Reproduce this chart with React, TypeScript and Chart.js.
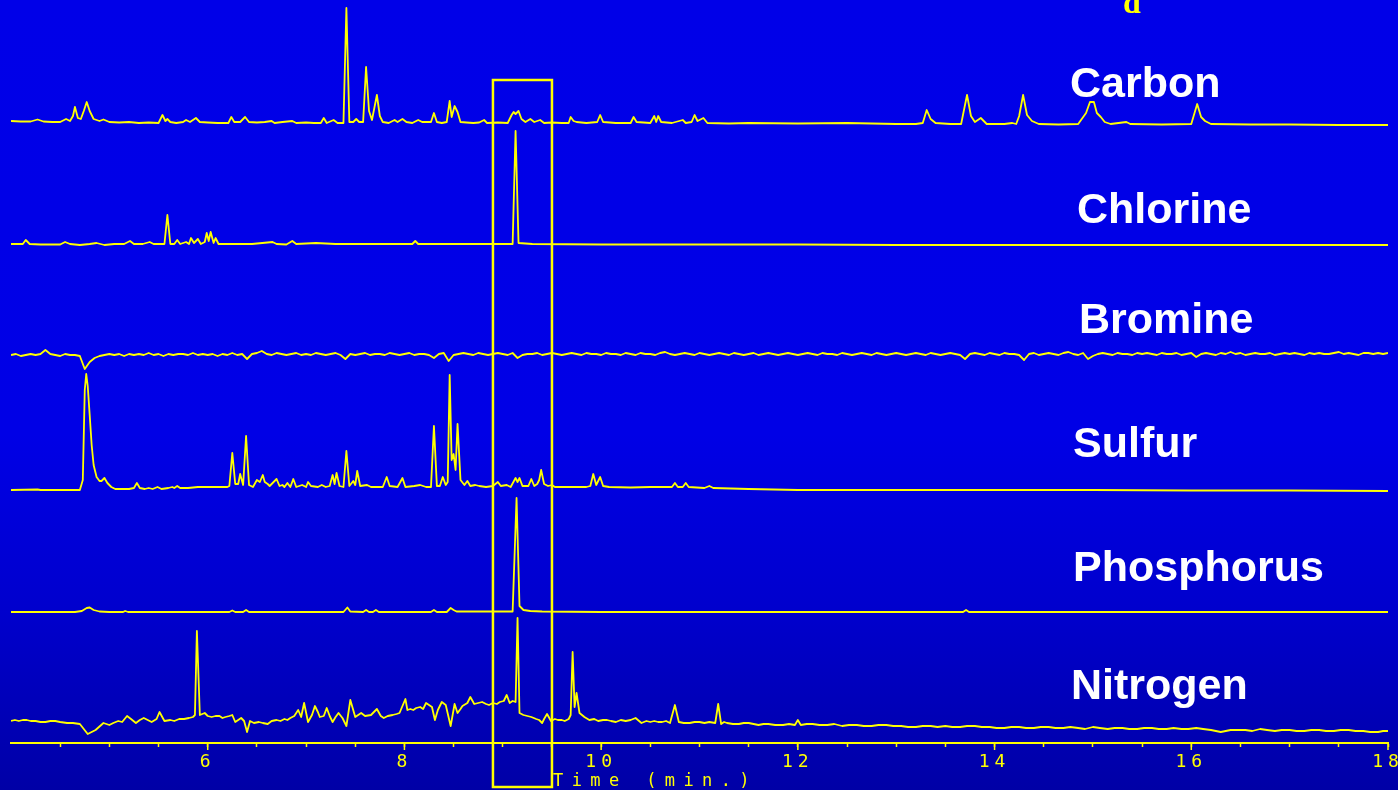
import React, { useEffect, useRef } from "react";
import { Chart, registerables } from "chart.js";

Chart.register(...registerables);

// ---------- axis ----------
const timeMin = 4;
const timeMax = 18;
const tickLabels = ["6", "8", "10", "12", "14", "16", "18"];
const axisTitle = "Time (min.)";
const panelLetter = "d";

// ---------- series ----------
const elementNames = ["Carbon", "Chlorine", "Bromine", "Sulfur", "Phosphorus", "Nitrogen"];
const traceOffsets = [622, 499, 388, 253, 131, 23];
const highlightWindow = [8.9, 9.5];

const carbon: [number, number][] = [
  [4.0, 0], [4.1, -0.5], [4.2, -0.5], [4.27, 1.5], [4.33, -0.5], [4.42, -1], [4.5, -1], [4.56, 2], [4.6, 0], [4.63, 5], [4.65, 14], [4.68, 3],
  [4.71, 2], [4.74, 10], [4.77, 19], [4.8, 10], [4.84, 2], [4.9, 0], [4.94, 1.5], [5.0, -1], [5.1, -1.5], [5.2, -1], [5.3, -2], [5.4, -1.5], [5.5, -2],
  [5.54, 6], [5.57, 0], [5.59, 2], [5.62, -1], [5.68, -2], [5.75, -1], [5.78, 1], [5.82, -1], [5.88, 3], [5.92, -1], [6.0, -1.5], [6.1, -2],
  [6.21, -2], [6.24, 4], [6.27, -1], [6.33, -1], [6.38, 4], [6.42, -1], [6.5, -1.5], [6.58, -1], [6.65, 0], [6.68, -2], [6.76, -1], [6.86, 0], [6.9, -2],
  [7.0, -1.5], [7.08, -2], [7.15, -2], [7.18, 3], [7.21, -2], [7.28, 1], [7.32, -2], [7.38, -2], [7.41, 113], [7.44, -1], [7.48, -1], [7.51, 2],
  [7.54, -1], [7.58, -1], [7.61, 54], [7.64, 10], [7.67, 1], [7.72, 26], [7.75, 5], [7.78, -1], [7.84, -2], [7.9, 1], [7.93, -1],
  [7.98, 2], [8.02, -1], [8.08, -2], [8.14, 1], [8.18, -1], [8.27, -1], [8.3, 8], [8.33, -1], [8.38, -2], [8.43, -1], [8.46, 20],
  [8.48, 4], [8.51, 15], [8.54, 9], [8.57, -1], [8.63, -1.5], [8.7, -2], [8.76, -1.5], [8.81, 1], [8.84, -2], [8.95, -1.5], [9.05, -2], [9.09, 6], [9.11, 9],
  [9.13, 7], [9.16, 10], [9.19, 2], [9.23, -1], [9.28, 2], [9.32, -1], [9.38, 1], [9.42, -2], [9.5, -1.5], [9.6, -2], [9.67, -2],
  [9.69, 4], [9.72, 0], [9.75, -1], [9.85, -2], [9.96, -1], [9.99, 6], [10.02, -1], [10.15, -2], [10.3, -2], [10.33, 4], [10.36, -1], [10.5, -2],
  [10.54, 5], [10.56, -1], [10.58, 5], [10.61, -1], [10.72, -2], [10.83, 1], [10.86, -2], [10.92, -1], [10.95, 6], [10.98, 0], [11.04, 3],
  [11.08, -2], [11.3, -2.5], [11.5, -2], [12.0, -2.5], [12.5, -2], [13.0, -3], [13.2, -3], [13.27, -2], [13.31, 11], [13.35, 2], [13.4, -2], [13.55, -3], [13.66, -3], [13.72, 26],
  [13.76, 5], [13.8, -1], [13.86, 3], [13.92, -3], [14.1, -3], [14.18, -2], [14.22, -3], [14.25, 5], [14.29, 26], [14.33, 6],
  [14.38, 0], [14.45, -3], [14.65, -3.5], [14.85, -3], [14.93, 8], [14.97, 19], [15.01, 19], [15.04, 8], [15.08, 4], [15.12, -1], [15.18, -3],
  [15.34, -1], [15.38, -3], [15.7, -3.5], [16.0, -3], [16.06, 17], [16.1, 4], [16.14, 0], [16.2, -3], [16.6, -3.5], [17.0, -3.5], [17.5, -4], [18.0, -4],
];

const chlorine: [number, number][] = [
  [4.0, 0], [4.12, 0], [4.15, 4], [4.19, 0], [4.3, -0.5], [4.5, -0.5], [4.55, 2], [4.6, 0], [4.7, -1], [4.8, 0], [4.87, 1], [4.95, -1],
  [5.05, 0], [5.15, 0], [5.21, 3], [5.25, 0], [5.34, 0], [5.41, 2], [5.45, 0], [5.56, 0], [5.59, 29], [5.62, 0], [5.66, 0],
  [5.69, 4], [5.72, 0], [5.78, 2], [5.81, 0], [5.83, 6], [5.86, 1], [5.9, 5], [5.93, 0], [5.97, 2], [5.99, 11],
  [6.01, 3], [6.03, 12], [6.06, 1], [6.08, 6], [6.11, 0], [6.2, 0], [6.3, 0], [6.45, 0], [6.66, 2], [6.7, 0], [6.8, -0.5], [6.86, 3], [6.9, 0],
  [7.1, 1], [7.3, 0], [7.5, 0], [7.8, 0], [8.08, 0], [8.11, 3], [8.14, 0], [8.4, 0], [8.6, 0], [9.1, 0], [9.13, 113], [9.16, 1], [9.3, 0],
  [10.0, -0.5], [11.0, -0.5], [12.0, -0.5], [13.0, -1], [14.0, -1], [16.0, -1], [18.0, -1],
];

// bromine: one reading every 0.05 min from 4.00 to 18.00 (one row per minute)
const bromineStep = 0.05;
const bromine: number[] = [
  0, 1, -1, 0, 1, 0, 1, 5, 1, 0, -1, 1, 0, 0, -1, -14, -7, -3, -1, 0,
  1, 0, 1, -1, 1, 0, 1, 0, 2, 0, 1, -1, 1, 0, 1, 1, 0, 2, 0, 1,
  0, 1, -1, 1, 0, 2, 0, 1, -4, 1, 2, 4, 1, 0, 2, 1, 0, 1, 2, 0,
  1, 0, 2, 1, 0, 1, 2, 0, -4, 1, 0, 1, 2, 0, 1, 1, 0, 2, 1, 0,
  1, 2, 0, 1, 1, 0, -3, 1, 2, -6, 0, 1, 2, 1, 0, 2, 1, 0, 1, 2,
  1, 0, 2, -3, 0, 1, 1, 2, 0, 1, 2, 1, 0, 1, 2, 1, 0, 2, 1, 1,
  0, 2, 1, 1, 0, 2, 1, 0, 2, 1, 1, 0, 2, 3, 1, 0, 1, 2, 1, 0,
  2, 1, 0, 1, 2, 1, 0, 2, 1, 0, 1, 2, 0, 1, 2, 1, 0, 1, 2, 1,
  0, 1, 2, 1, 0, 2, 1, 1, 0, 2, 1, 0, 1, 2, 1, 0, 2, 1, 0, 1,
  2, 1, 0, 1, 2, 1, 0, 2, 1, 0, 1, 2, 1, 0, -4, 1, 2, 1, 0, 2,
  1, 0, 2, 1, 1, 0, -5, 1, 2, 0, 1, 2, 1, 0, 2, 3, 1, 0, 2, -4,
  -1, 1, 2, 1, 0, 2, 1, 1, 0, 2, 1, 2, 1, 0, 2, 1, 1, 2, 0, 1,
  2, -2, 1, 2, 1, 0, 2, 1, 3, 1, 2, 0, 1, 2, 1, 1, 2, 0, 1, 2,
  1, 2, 1, 0, 2, 1, 2, 1, 1, 2, 3, 1, 2, 1, 0, 2, 2, 1, 2, 1,
  2,
];

const sulfur: [number, number][] = [
  [4.0, 0], [4.27, 0.5], [4.3, 0], [4.7, 0], [4.73, 10], [4.75, 100], [4.765, 116], [4.78, 104], [4.8, 75], [4.82, 45], [4.84, 25], [4.87, 13],
  [4.9, 9], [4.92, 9], [4.95, 12], [4.98, 7], [5.02, 3], [5.06, 1], [5.2, 1], [5.25, 2], [5.28, 7], [5.31, 2], [5.36, 1],
  [5.4, 2], [5.44, 1], [5.49, 3], [5.53, 1], [5.6, 2], [5.64, 3], [5.66, 2], [5.69, 4], [5.72, 2], [5.8, 2],
  [5.9, 3], [6.0, 3], [6.1, 3], [6.2, 3], [6.22, 4], [6.25, 37], [6.28, 6], [6.31, 6], [6.33, 16], [6.36, 5],
  [6.39, 54], [6.42, 5], [6.46, 3], [6.5, 10], [6.53, 8], [6.56, 15], [6.58, 8], [6.61, 6], [6.63, 4], [6.7, 11],
  [6.73, 4], [6.76, 5], [6.78, 3], [6.81, 7], [6.84, 3], [6.87, 11], [6.9, 3], [6.96, 5], [7.0, 3], [7.02, 8],
  [7.05, 4], [7.12, 3], [7.16, 5], [7.2, 3], [7.24, 4], [7.27, 15], [7.29, 6], [7.31, 17], [7.34, 4], [7.38, 3],
  [7.41, 39], [7.44, 4], [7.48, 9], [7.5, 5], [7.52, 19], [7.55, 4], [7.62, 5], [7.66, 3], [7.78, 3], [7.82, 13],
  [7.85, 4], [7.93, 3], [7.98, 12], [8.01, 3], [8.1, 4], [8.16, 5], [8.22, 3], [8.27, 3], [8.3, 64], [8.33, 4],
  [8.36, 4], [8.39, 13], [8.42, 5], [8.44, 8], [8.46, 115], [8.48, 30], [8.5, 36], [8.52, 20], [8.54, 66], [8.57, 10],
  [8.61, 5], [8.64, 9], [8.67, 4], [8.72, 5], [8.76, 4], [8.83, 3], [8.9, 4], [8.95, 8], [8.98, 4], [9.04, 5],
  [9.08, 3], [9.13, 12], [9.15, 8], [9.17, 12], [9.2, 4], [9.26, 4], [9.29, 11], [9.32, 4], [9.35, 6], [9.37, 10],
  [9.39, 20], [9.42, 6], [9.46, 4], [9.5, 5], [9.53, 3], [9.7, 3], [9.85, 3], [9.89, 4], [9.92, 16], [9.95, 5],
  [9.99, 13], [10.02, 4], [10.08, 3], [10.3, 2.5], [10.5, 3], [10.72, 3], [10.75, 7], [10.78, 3], [10.83, 3], [10.86, 7], [10.89, 3],
  [11.05, 2], [11.1, 4], [11.14, 2], [11.5, 1], [12.0, 0], [13.0, 0], [14.0, 0], [15.0, 0], [16.0, -0.5], [17.0, -0.5], [18.0, -1],
];

const phosphorus: [number, number][] = [
  [4.0, 0], [4.65, 0], [4.72, 1], [4.77, 4], [4.8, 4.5], [4.84, 2], [4.9, 0.5], [5.0, 0], [5.14, 0], [5.16, 1],
  [5.19, 0], [6.22, 0], [6.25, 1.5], [6.28, 0], [6.36, 0], [6.39, 2], [6.42, 0], [7.38, 0], [7.42, 4.5], [7.45, 0.5],
  [7.58, 0], [7.61, 2], [7.64, 0], [7.68, 0], [7.71, 2], [7.74, 0], [8.27, 0], [8.3, 2], [8.33, 0], [8.43, 0],
  [8.47, 4], [8.5, 2], [8.53, 0.5], [9.1, 0.5], [9.14, 114], [9.17, 6], [9.21, 2], [9.28, 1], [9.4, 0.5], [10.0, 0],
  [13.68, 0], [13.71, 2], [13.74, 0], [18.0, 0],
];

const nitrogen: [number, number][] = [
  [4.0, -1], [4.04, 0], [4.08, -1], [4.12, 0], [4.16, 0], [4.2, -1], [4.25, -1], [4.3, -2], [4.35, -2], [4.4, -1], [4.45, -1], [4.5, -2],
  [4.57, -3], [4.63, -3], [4.7, -4], [4.78, -14], [4.86, -10], [4.94, -3], [5.0, -5], [5.04, -3], [5.09, -1], [5.13, -2], [5.18, 4],
  [5.22, 1], [5.27, -3], [5.31, 0], [5.35, 2], [5.39, 0], [5.43, -2], [5.48, 1], [5.51, 8], [5.56, -1], [5.62, 0], [5.66, -1],
  [5.71, 1], [5.76, 1], [5.81, 2], [5.85, 3], [5.87, 5], [5.89, 89], [5.92, 5], [5.97, 7], [6.0, 4], [6.04, 3], [6.08, 4], [6.12, 4],
  [6.15, 2], [6.18, 3], [6.22, 4], [6.25, 5], [6.28, -2], [6.31, 0], [6.34, 2], [6.37, -1], [6.4, -12], [6.43, -1], [6.47, -3], [6.52, -2],
  [6.56, -3], [6.61, -4], [6.65, -1], [6.7, 0], [6.74, -1], [6.78, 1], [6.81, 0], [6.84, 2], [6.88, 4], [6.92, 10], [6.95, 3],
  [6.98, 17], [7.02, -2], [7.06, 5], [7.09, 14], [7.12, 8], [7.14, 3], [7.18, 4], [7.21, 12], [7.24, 4], [7.27, -2], [7.3, 3], [7.33, 7],
  [7.37, 2], [7.41, -6], [7.45, 20], [7.5, 3], [7.53, 5], [7.56, 7], [7.6, 4], [7.66, 5], [7.69, 8], [7.72, 11], [7.76, 4], [7.79, 2],
  [7.83, 4], [7.88, 5], [7.92, 6], [7.95, 7], [8.01, 21], [8.03, 10], [8.06, 11], [8.09, 10], [8.12, 12], [8.16, 13], [8.19, 11],
  [8.22, 17], [8.25, 15], [8.28, 13], [8.31, 0], [8.34, 10], [8.38, 18], [8.42, 15], [8.47, -6], [8.51, 16], [8.54, 7], [8.57, 11], [8.59, 14],
  [8.64, 17], [8.67, 23], [8.71, 16], [8.75, 17], [8.79, 18], [8.83, 16], [8.86, 15], [8.9, 17], [8.94, 16], [8.97, 18], [9.01, 19],
  [9.04, 25], [9.07, 17], [9.1, 19], [9.13, 18], [9.15, 102], [9.17, 7], [9.21, 5], [9.25, 4], [9.29, 3], [9.34, 1], [9.37, 0],
  [9.4, -3], [9.42, 1], [9.45, 6], [9.49, -1], [9.53, 1], [9.56, 0], [9.6, 0], [9.63, -1], [9.67, 1], [9.69, 5], [9.71, 68], [9.73, 13],
  [9.75, 27], [9.78, 7], [9.83, 3], [9.88, 0], [9.93, 1], [9.97, -1], [10.02, 0], [10.06, 0], [10.1, -1], [10.15, -2], [10.2, 0],
  [10.25, -1], [10.3, 0], [10.35, 2], [10.41, -3], [10.46, -1], [10.5, -2], [10.54, -1], [10.58, -2], [10.62, -2], [10.66, -1], [10.7, -3],
  [10.75, 15], [10.79, -2], [10.84, -3], [10.9, -3], [10.95, -2], [11.0, -2], [11.05, -3], [11.1, -2], [11.16, -3], [11.19, 16],
  [11.22, -4], [11.25, -2], [11.28, -3], [11.34, -4], [11.4, -4], [11.45, -3], [11.5, -3], [11.55, -4], [11.6, -5], [11.65, -4], [11.7, -4],
  [11.77, -5], [11.85, -5], [11.91, -4], [11.97, -5], [12.0, 0], [12.03, -5], [12.09, -4], [12.15, -4], [12.22, -5], [12.3, -5],
  [12.37, -4], [12.45, -6], [12.52, -5], [12.6, -5], [12.67, -6], [12.75, -6], [12.82, -5], [12.9, -5], [12.97, -6], [13.05, -6],
  [13.12, -7], [13.2, -7], [13.27, -6], [13.35, -6], [13.42, -7], [13.5, -6], [13.57, -7], [13.65, -7], [13.72, -6], [13.8, -6],
  [13.87, -7], [13.95, -7], [14.02, -8], [14.1, -8], [14.17, -7], [14.25, -7], [14.32, -8], [14.4, -8], [14.47, -7], [14.55, -7],
  [14.62, -8], [14.7, -8], [14.77, -7], [14.85, -8], [14.92, -9], [15.0, -7], [15.07, -8], [15.15, -9], [15.22, -8], [15.3, -8],
  [15.37, -9], [15.45, -9], [15.52, -8], [15.6, -8], [15.67, -9], [15.75, -9], [15.82, -8], [15.9, -9], [15.97, -9], [16.05, -8],
  [16.12, -9], [16.2, -10], [16.25, -11], [16.3, -12], [16.35, -11], [16.4, -10], [16.47, -10], [16.55, -10], [16.62, -11], [16.7, -9],
  [16.77, -10], [16.85, -11], [16.92, -10], [17.0, -10], [17.07, -11], [17.15, -11], [17.22, -10], [17.3, -10], [17.37, -11], [17.45, -11],
  [17.52, -10], [17.6, -10], [17.67, -11], [17.75, -11], [17.82, -12], [17.9, -12], [17.95, -11], [18.0, -11],
];

// ---------- layout (pixels) ----------
const W = 1398;
const H = 790;
const labelAnchors: [number, number][] = [
  [1070, 97], [1077, 223], [1079, 333], [1073, 457], [1073, 581], [1071, 699],
];
const YELLOW = "#ffff00";

const bromineTrace: [number, number][] = bromine.map((v, i) => [timeMin + i * bromineStep, v]);
const seriesList: [number, number][][] = [carbon, chlorine, bromineTrace, sulfur, phosphorus, nitrogen];

export default function App() {
  const canvasRef = useRef<HTMLCanvasElement | null>(null);

  useEffect(() => {
    if (!canvasRef.current) return;

    const overlay = {
      id: "overlay",
      beforeDraw(chart: any) {
        chart.ctx.letterSpacing = "5px";
      },
      beforeDatasetsDraw(chart: any) {
        chart.ctx.letterSpacing = "0px";
      },
      afterDraw(chart: any) {
        const ctx = chart.ctx as CanvasRenderingContext2D;
        const xs = chart.scales.x;
        const ys = chart.scales.y;
        ctx.save();
        (ctx as any).letterSpacing = "0px";
        // longer major ticks
        ctx.strokeStyle = YELLOW;
        ctx.lineWidth = 1.5;
        tickLabels.forEach((l) => {
          const px = xs.getPixelForValue(Number(l));
          ctx.beginPath();
          ctx.moveTo(px, ys.bottom);
          ctx.lineTo(px, ys.bottom + 7);
          ctx.stroke();
        });
        // highlight window
        const x0 = xs.getPixelForValue(highlightWindow[0]);
        const x1 = xs.getPixelForValue(highlightWindow[1]);
        const yTop = ys.getPixelForValue(663);
        const yBot = ys.getPixelForValue(-44);
        ctx.lineWidth = 2.5;
        ctx.strokeRect(x0, yTop, x1 - x0, yBot - yTop);
        // element labels
        ctx.fillStyle = "#ffffff";
        ctx.font = "bold 43px 'Liberation Sans', Arial, sans-serif";
        ctx.textAlign = "left";
        ctx.textBaseline = "alphabetic";
        elementNames.forEach((name, i) => {
          ctx.fillText(name, labelAnchors[i][0], labelAnchors[i][1]);
        });
        // panel letter (cut at top)
        ctx.fillStyle = YELLOW;
        ctx.font = "bold 32px 'Liberation Serif', 'Times New Roman', serif";
        ctx.fillText(panelLetter, 1123, 13);
        ctx.restore();
      },
    };

    const chart = new Chart(canvasRef.current, {
      type: "line",
      data: {
        datasets: seriesList.map((pts, i) => ({
          label: elementNames[i],
          data: pts.map(([t, v]) => ({ x: t, y: v + traceOffsets[i] })),
          borderColor: YELLOW,
          borderWidth: 1.8,
          borderJoinStyle: "round" as const,
          pointRadius: 0,
          tension: 0,
          fill: false,
        })),
      },
      options: {
        responsive: false,
        animation: false,
        devicePixelRatio: 1,
        events: [],
        layout: { padding: { left: 11, right: 10, top: 0, bottom: 0 } },
        plugins: { legend: { display: false }, tooltip: { enabled: false }, title: { display: false } },
        scales: {
          x: {
            type: "linear",
            min: timeMin,
            max: timeMax,
            border: { display: true, color: YELLOW, width: 2 },
            grid: {
              display: true,
              drawOnChartArea: false,
              drawTicks: true,
              tickLength: 4,
              tickWidth: 1.5,
              tickColor: (c: any) => (c.tick && c.tick.value === timeMin ? "rgba(0,0,0,0)" : YELLOW),
            },
            ticks: {
              stepSize: 0.5,
              autoSkip: false,
              maxRotation: 0,
              minRotation: 0,
              padding: 5,
              color: YELLOW,
              font: { family: "'DejaVu Sans Mono', monospace", size: 18 },
              callback: (value: any) => (tickLabels.includes(String(value)) ? String(value) : ""),
            },
            afterFit: (scale: any) => {
              scale.height = 47;
              scale.paddingLeft = 0;
              scale.paddingRight = 0;
            },
          },
          y: { type: "linear", display: false, min: 0, max: 743 },
        },
      },
      plugins: [overlay],
    });

    return () => chart.destroy();
  }, []);

  return (
    <div
      style={{
        position: "fixed",
        left: 0,
        top: 0,
        width: W,
        height: H,
        overflow: "hidden",
        background:
          "linear-gradient(to bottom, #0000e8 0%, #0000e6 55%, #0000cc 78%, #0000a6 100%)",
      }}
    >
      <canvas ref={canvasRef} width={W} height={H} style={{ display: "block" }} />
      <div
        style={{
          position: "absolute",
          left: 553,
          top: 772,
          fontFamily: "'DejaVu Sans Mono', monospace",
          fontSize: 17,
          lineHeight: "17px",
          letterSpacing: "8.4px",
          color: YELLOW,
          whiteSpace: "pre",
        }}
      >
        {axisTitle}
      </div>
    </div>
  );
}
